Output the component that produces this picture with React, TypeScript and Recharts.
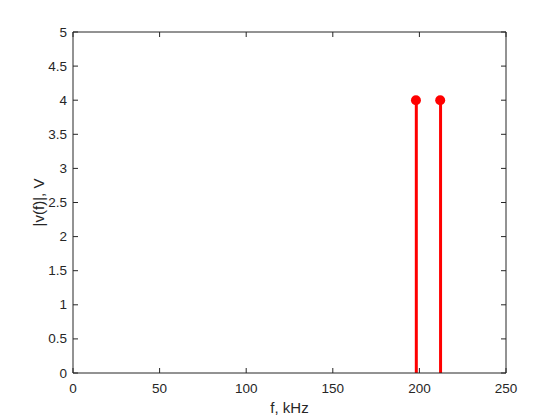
import React from "react";
import {
  ComposedChart,
  XAxis,
  YAxis,
  Bar,
  Scatter,
  ReferenceLine,
} from "recharts";

// stem plot: spectrum magnitude
const freqs = [198, 212];
const amps = [4, 4];
const xTicks = [0, 50, 100, 150, 200, 250];
const yTicks = [0, 0.5, 1, 1.5, 2, 2.5, 3, 3.5, 4, 4.5, 5];

const data = freqs.map((f, i) => ({ f, amp: amps[i] }));

const ink = "#262626";
const font = { fontFamily: "'Liberation Sans', Arial, sans-serif", fontSize: 13.5, fill: ink };
const labelFont = { ...font, fontSize: 15 };

// plot box edges in chart coords (chart sits at 8,8 on the page)
const PLOT_TOP = 24;
const PLOT_RIGHT = 498;

const XTick = (p: any) => (
  <g>
    <line x1={p.x} x2={p.x} y1={p.y} y2={p.y - 5} stroke={ink} />
    <line x1={p.x} x2={p.x} y1={PLOT_TOP} y2={PLOT_TOP + 5} stroke={ink} />
    <text x={p.x} y={p.y + 15} textAnchor="middle" dominantBaseline="central" style={font}>
      {String(p.payload.value)}
    </text>
  </g>
);

const YTick = (p: any) => (
  <g>
    <line x1={p.x} x2={p.x + 5} y1={p.y} y2={p.y} stroke={ink} />
    <line x1={PLOT_RIGHT} x2={PLOT_RIGHT - 5} y1={p.y} y2={p.y} stroke={ink} />
    <text x={p.x - 6} y={p.y} textAnchor="end" dominantBaseline="central" style={font}>
      {String(p.payload.value)}
    </text>
  </g>
);

const YLabel = (props: any) => {
  const vb = props.viewBox;
  const cx = 38 - 8;
  const cy = vb.y + vb.height / 2;
  return (
    <text
      x={cx}
      y={cy}
      transform={`rotate(-90, ${cx}, ${cy})`}
      textAnchor="middle"
      dominantBaseline="central"
      style={labelFont}
    >
      |v(f)|, V
    </text>
  );
};

const XLabel = (props: any) => {
  const vb = props.viewBox;
  return (
    <text
      x={vb.x + vb.width / 2}
      y={407 - 8}
      textAnchor="middle"
      dominantBaseline="central"
      style={labelFont}
    >
      f, kHz
    </text>
  );
};

export default function App() {
  return (
    <ComposedChart
      width={552}
      height={412}
      data={data}
      margin={{ top: 24, right: 54, bottom: 0, left: 0 }}
      style={{ background: "#fff" }}
    >
      <XAxis
        dataKey="f"
        type="number"
        domain={[0, 250]}
        ticks={xTicks}
        height={47}
        tickSize={0}
        tickMargin={0}
        tickLine={false}
        stroke={ink}
        tick={<XTick />}
        label={<XLabel />}
      />
      <YAxis
        type="number"
        domain={[0, 5]}
        ticks={yTicks}
        width={65}
        tickSize={0}
        tickMargin={0}
        tickLine={false}
        stroke={ink}
        tick={<YTick />}
        label={<YLabel />}
      />
      <ReferenceLine y={5} stroke={ink} ifOverflow="visible" />
      <ReferenceLine x={250} stroke={ink} ifOverflow="visible" />
      <Bar dataKey="amp" fill="#ff0000" barSize={3} isAnimationActive={false} />
      <Scatter
        dataKey="amp"
        fill="#ff0000"
        isAnimationActive={false}
        shape={(p: any) => <circle cx={p.cx} cy={p.cy} r={5} fill="#ff0000" />}
      />
    </ComposedChart>
  );
}
